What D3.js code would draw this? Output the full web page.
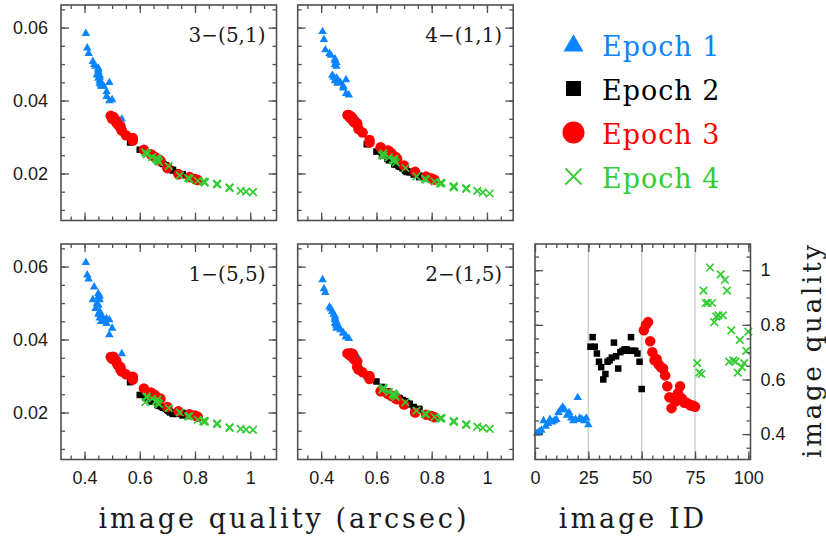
<!DOCTYPE html>
<html><head><meta charset="utf-8">
<script src="https://cdn.jsdelivr.net/npm/d3@7"></script>
<style>body{margin:0;background:#fff}svg{display:block}</style>
</head><body><svg id="c" width="826" height="540"></svg>
<script>
// ---------------- DATA ----------------
const epochNames = ["Epoch 1", "Epoch 2", "Epoch 3", "Epoch 4"];
const epochColors = ["#0a84ff", "#000000", "#ff0000", "#33cc33"];
const epochShapes = ["triangle", "square", "circle", "cross"];

const idsEpoch1 = [1,2,3,4,5,6,7,8,9,10,11,12,13,14,15,16,17,18,19,20,21,22,23,24,25];
const idsEpoch2 = [26,27,28,29,30,31,32,33,34,35,36,37,38,39,40,41,42,43,44,45,46,47,48,49,50];
const idsEpoch3 = [51,52,53,54,55,56,57,58,59,60,61,62,63,64,65,66,67,68,69,70,71,72,73,74,75];
const idsEpoch4 = [76,77,78,79,80,81,82,83,84,85,86,87,88,89,90,91,92,93,94,95,96,97,98,99,100];

// image quality (arcsec) per image
const qualityEpoch1 = [0.405,0.41,0.415,0.45,0.43,0.44,0.455,0.445,0.45,0.455,0.48,0.49,0.5,0.49,0.47,0.48,0.46,0.45,0.455,0.535,0.46,0.455,0.45,0.46,0.435];
const qualityEpoch2 = [0.72,0.755,0.72,0.695,0.665,0.645,0.6,0.62,0.665,0.67,0.68,0.735,0.685,0.64,0.7,0.705,0.71,0.71,0.705,0.755,0.705,0.705,0.695,0.665,0.565];
const qualityEpoch3 = [0.78,0.8,0.81,0.74,0.7,0.67,0.675,0.655,0.645,0.64,0.615,0.575,0.535,0.495,0.53,0.52,0.55,0.575,0.53,0.515,0.515,0.51,0.505,0.505,0.5];
const qualityEpoch4 = [0.66,0.625,0.62,0.925,0.88,0.88,1.01,0.88,0.81,0.83,0.835,0.985,0.835,0.965,0.925,0.665,0.78,0.67,0.665,0.625,0.745,0.645,0.66,0.705,0.775];

// panel "3−(5,1)"
const p351Epoch1 = [0.0585,0.0545,0.053,0.049,0.0508,0.0495,0.0455,0.0471,0.0462,0.0448,0.0412,0.045,0.0403,0.04,0.044,0.0425,0.0445,0.048,0.0465,0.035,0.0452,0.047,0.0485,0.044,0.05];
const p351Epoch2 = [0.0208,0.0196,0.021,0.0222,0.0235,0.0246,0.0265,0.0258,0.0238,0.0232,0.0228,0.0203,0.0226,0.025,0.0218,0.0215,0.0212,0.021,0.0216,0.0198,0.0214,0.0217,0.0221,0.0236,0.0285];
const p351Epoch3 = [0.019,0.0185,0.0182,0.0198,0.0215,0.0238,0.0235,0.0245,0.025,0.0253,0.0265,0.029,0.0318,0.0358,0.0325,0.0335,0.0305,0.0297,0.033,0.034,0.0345,0.0348,0.0352,0.0355,0.035];
const p351Epoch4 = [0.024,0.0255,0.0258,0.0162,0.017,0.0172,0.0149,0.0171,0.018,0.0178,0.0177,0.015,0.0175,0.0152,0.016,0.0235,0.0185,0.0232,0.0238,0.0252,0.0195,0.0245,0.0242,0.022,0.0188];

// panel "4−(1,1)"
const p411Epoch1 = [0.059,0.0568,0.054,0.051,0.053,0.047,0.0495,0.0465,0.0455,0.046,0.0435,0.0458,0.0416,0.042,0.045,0.044,0.0452,0.05,0.0505,0.0343,0.0458,0.0462,0.0515,0.0448,0.0525];
const p411Epoch2 = [0.0203,0.019,0.0205,0.0214,0.0228,0.0236,0.026,0.025,0.0225,0.0224,0.022,0.0197,0.0218,0.024,0.0212,0.0208,0.0206,0.0204,0.021,0.0194,0.0207,0.0211,0.0215,0.023,0.028];
const p411Epoch3 = [0.0192,0.0186,0.0183,0.0205,0.0222,0.0245,0.024,0.0255,0.0262,0.0263,0.0272,0.0292,0.0322,0.036,0.0335,0.034,0.0312,0.0285,0.0338,0.0345,0.035,0.0355,0.0352,0.0358,0.036];
const p411Epoch4 = [0.0238,0.0255,0.025,0.0158,0.0163,0.0165,0.0145,0.0162,0.0178,0.0173,0.0172,0.0148,0.0175,0.0152,0.016,0.0235,0.0183,0.023,0.024,0.0248,0.0192,0.0244,0.0236,0.0215,0.0185];

// panel "1−(5,5)"
const p155Epoch1 = [0.0612,0.0578,0.0567,0.0527,0.051,0.0486,0.051,0.05,0.047,0.046,0.0445,0.0455,0.0432,0.0414,0.0455,0.0458,0.0462,0.0518,0.052,0.0362,0.047,0.0478,0.0495,0.045,0.0545];
const p155Epoch2 = [0.0196,0.0192,0.0198,0.021,0.0222,0.023,0.0248,0.024,0.022,0.0218,0.0215,0.0196,0.0213,0.0233,0.0207,0.0205,0.0202,0.02,0.0206,0.0199,0.0204,0.0208,0.0211,0.0224,0.0283];
const p155Epoch3 = [0.0195,0.0192,0.0188,0.0203,0.0215,0.0235,0.0238,0.0248,0.0252,0.0255,0.0266,0.0298,0.0312,0.0352,0.0318,0.033,0.0305,0.029,0.0325,0.0338,0.0342,0.0345,0.0348,0.0353,0.0347];
const p155Epoch4 = [0.0232,0.0241,0.0228,0.0159,0.0168,0.017,0.0152,0.0169,0.018,0.0176,0.0174,0.0153,0.0177,0.0155,0.0158,0.0226,0.019,0.0223,0.0236,0.0244,0.02,0.0238,0.023,0.0212,0.0189];

// panel "2−(1,5)"
const p215Epoch1 = [0.0565,0.054,0.053,0.0465,0.049,0.0478,0.044,0.047,0.0445,0.0432,0.0418,0.041,0.0404,0.0408,0.0428,0.042,0.0438,0.0455,0.045,0.0349,0.0435,0.0448,0.046,0.044,0.0485];
const p215Epoch2 = [0.0222,0.0208,0.0224,0.0232,0.0245,0.0255,0.0285,0.027,0.0247,0.0244,0.024,0.0215,0.0238,0.0258,0.023,0.0228,0.0226,0.0224,0.0229,0.021,0.0227,0.023,0.0234,0.0248,0.03];
const p215Epoch3 = [0.0194,0.019,0.0187,0.02,0.0222,0.0238,0.0236,0.0245,0.025,0.0252,0.0258,0.0292,0.0318,0.0362,0.0325,0.0345,0.031,0.03,0.034,0.035,0.036,0.0362,0.0356,0.0362,0.036];
const p215Epoch4 = [0.025,0.0268,0.0262,0.0168,0.0175,0.0177,0.0155,0.0174,0.0188,0.0184,0.0183,0.0158,0.0185,0.0161,0.0166,0.0246,0.0195,0.0243,0.025,0.0265,0.0205,0.0256,0.0252,0.0228,0.0196];

const panelLabels = ["3−(5,1)", "4−(1,1)", "1−(5,5)", "2−(1,5)"];
const scatterXTicks = [0.4, 0.6, 0.8, 1];
const scatterXTickLabels = ["0.4", "0.6", "0.8", "1"];
const scatterYTicks = [0.02, 0.04, 0.06];
const scatterYTickLabels = ["0.02", "0.04", "0.06"];
const idTicks = [0, 25, 50, 75, 100];
const idTickLabels = ["0", "25", "50", "75", "100"];
const qualityTicks = [0.4, 0.6, 0.8, 1];
const qualityTickLabels = ["0.4", "0.6", "0.8", "1"];
const epochBoundaries = [25, 50, 75];

// ---------------- LAYOUT ----------------
const svg = d3.select("#c");
const colX = [61, 297.7, 535];
const rowY = [5, 244];
const PW = 215.5, PH = 215.5;
const FRAME = "#505050";
const TICKFONT = "'Liberation Sans', Arial, sans-serif";
const SERIF = "'DejaVu Serif', serif";

const qualities = [qualityEpoch1, qualityEpoch2, qualityEpoch3, qualityEpoch4];
const ids = [idsEpoch1, idsEpoch2, idsEpoch3, idsEpoch4];
const panelSeries = [
  [p351Epoch1, p351Epoch2, p351Epoch3, p351Epoch4],
  [p411Epoch1, p411Epoch2, p411Epoch3, p411Epoch4],
  [p155Epoch1, p155Epoch2, p155Epoch3, p155Epoch4],
  [p215Epoch1, p215Epoch2, p215Epoch3, p215Epoch4]
];
const panelPos = [[0,0],[1,0],[0,1],[1,1]];

function marker(g, shape, color, s) {
  if (shape === "triangle") {
    const h = s * 0.87;
    g.append("path").attr("d", `M0,${-h*0.62}L${s/2},${h*0.38}L${-s/2},${h*0.38}Z`).attr("fill", color);
  } else if (shape === "square") {
    g.append("rect").attr("x", -s/2).attr("y", -s/2).attr("width", s).attr("height", s).attr("fill", color);
  } else if (shape === "circle") {
    g.append("circle").attr("r", s/2).attr("fill", color);
  } else {
    g.append("path").attr("d", `M${-s/2},${-s/2}L${s/2},${s/2}M${-s/2},${s/2}L${s/2},${-s/2}`)
      .attr("stroke", color).attr("stroke-width", Math.max(1.7, s/9)).attr("fill", "none");
  }
}
const markerSize = [8.5, 6.5, 10.5, 7.5];

function tickAxis(g, axisFn, scale, values, len, labels, pad) {
  const ax = axisFn(scale).tickValues(values).tickSizeInner(-len).tickSizeOuter(0).tickPadding(pad || 0);
  if (labels) ax.tickFormat((d, i) => labels[i]); else ax.tickFormat("");
  g.call(ax);
  g.select(".domain").remove();
  g.selectAll(".tick line").attr("stroke", FRAME).attr("stroke-width", 1.3);
  g.selectAll(".tick text").attr("font-family", TICKFONT).attr("font-size", 18).attr("fill", "#1a1a1a");
}

function frameAndTicks(g, x, y, xMajor, xMinor, yMajor, yMinor, opts) {
  const [x0, x1] = x.range(), [y1, y0] = y.range();
  tickAxis(g.append("g").attr("transform", `translate(0,${y1})`), d3.axisBottom, x, xMinor, 4);
  tickAxis(g.append("g").attr("transform", `translate(0,${y1})`), d3.axisBottom, x, xMajor, 8, opts.xLabels, 12);
  tickAxis(g.append("g").attr("transform", `translate(0,${y0})`), d3.axisTop, x, xMinor, 4);
  tickAxis(g.append("g").attr("transform", `translate(0,${y0})`), d3.axisTop, x, xMajor, 8);
  tickAxis(g.append("g").attr("transform", `translate(${x0},0)`), d3.axisLeft, y, yMinor, 4);
  tickAxis(g.append("g").attr("transform", `translate(${x0},0)`), d3.axisLeft, y, yMajor, 8, opts.yLeftLabels, 13);
  tickAxis(g.append("g").attr("transform", `translate(${x1},0)`), d3.axisRight, y, yMinor, 4);
  tickAxis(g.append("g").attr("transform", `translate(${x1},0)`), d3.axisRight, y, yMajor, 8, opts.yRightLabels, 10);
  g.append("rect").attr("x", x0).attr("y", y0).attr("width", x1 - x0).attr("height", y1 - y0)
    .attr("fill", "none").attr("stroke", FRAME).attr("stroke-width", 1.6);
}

function stepRange(a, b, s) { const out = []; for (let v = a; v <= b + 1e-9; v += s) out.push(+v.toFixed(4)); return out; }
const sxMinor = stepRange(0.35, 1.05, 0.05);
const syMinor = stepRange(0.01, 0.065, 0.005);

panelSeries.forEach((series, p) => {
  const [c, r] = panelPos[p];
  const left = colX[c], top = rowY[r];
  const x = d3.scaleLinear().domain([0.315, 1.095]).range([left, left + PW]);
  const y = d3.scaleLinear().domain([0.0071, 0.0662]).range([top + PH, top]);
  const g = svg.append("g");
  const clipId = "clip" + p;
  g.append("clipPath").attr("id", clipId).append("rect").attr("x", left).attr("y", top).attr("width", PW).attr("height", PH);
  const pts = g.append("g").attr("clip-path", `url(#${clipId})`);
  series.forEach((vals, e) => {
    vals.forEach((v, i) => {
      const m = pts.append("g").attr("transform", `translate(${x(qualities[e][i])},${y(v)})`);
      marker(m, epochShapes[e], epochColors[e], markerSize[e]);
    });
  });
  frameAndTicks(g, x, y, scatterXTicks, sxMinor, scatterYTicks, syMinor, {
    xLabels: r === 1 ? scatterXTickLabels : null,
    yLeftLabels: c === 0 ? scatterYTickLabels : null,
    yRightLabels: null
  });
  g.append("text").attr("x", left + PW - 11).attr("y", top + 37).attr("text-anchor", "end")
    .attr("font-family", SERIF).attr("font-size", 20).attr("fill", "#1a1a1a").text(panelLabels[p]);
});

// right panel: image quality vs image ID
{
  const left = colX[2], top = rowY[1];
  const x = d3.scaleLinear().domain([0, 101]).range([left, left + PW]);
  const y = d3.scaleLinear().domain([0.307, 1.096]).range([top + PH, top]);
  const g = svg.append("g");
  g.selectAll("line.sep").data(epochBoundaries).join("line").attr("class", "sep")
    .attr("x1", d => x(d)).attr("x2", d => x(d)).attr("y1", top).attr("y2", top + PH)
    .attr("stroke", "#cfcfcf").attr("stroke-width", 1.5);
  qualities.forEach((vals, e) => {
    vals.forEach((v, i) => {
      const m = g.append("g").attr("transform", `translate(${x(ids[e][i])},${y(v)})`);
      marker(m, epochShapes[e], epochColors[e], markerSize[e]);
    });
  });
  frameAndTicks(g, x, y, idTicks, stepRange(5, 100, 5), qualityTicks, stepRange(0.35, 1.05, 0.05), {
    xLabels: idTickLabels, yLeftLabels: null, yRightLabels: qualityTickLabels
  });
}

// axis titles
svg.append("text").attr("x", 284).attr("y", 528).attr("text-anchor", "middle")
  .attr("font-family", SERIF).attr("font-size", 27).attr("letter-spacing", 3).attr("fill", "#1a1a1a")
  .text("image quality (arcsec)");
svg.append("text").attr("x", 633).attr("y", 528).attr("text-anchor", "middle")
  .attr("font-family", SERIF).attr("font-size", 27).attr("letter-spacing", 3).attr("fill", "#1a1a1a")
  .text("image ID");
svg.append("text").attr("transform", "translate(821,350) rotate(-90)").attr("text-anchor", "middle")
  .attr("font-family", SERIF).attr("font-size", 26).attr("letter-spacing", 2.8).attr("fill", "#1a1a1a")
  .text("image quality");

// legend
const legendY = [45, 88.5, 132.5, 176.5];
epochNames.forEach((name, e) => {
  const m = svg.append("g").attr("transform", `translate(573.5,${legendY[e]})`);
  const sizes = [20, 15, 22, 16];
  marker(m, epochShapes[e], epochColors[e], sizes[e]);
  svg.append("text").attr("x", 602).attr("y", legendY[e] + 11)
    .attr("font-family", SERIF).attr("font-size", 27).attr("letter-spacing", 1)
    .attr("fill", epochColors[e]).text(name);
});
</script>
</body></html>
